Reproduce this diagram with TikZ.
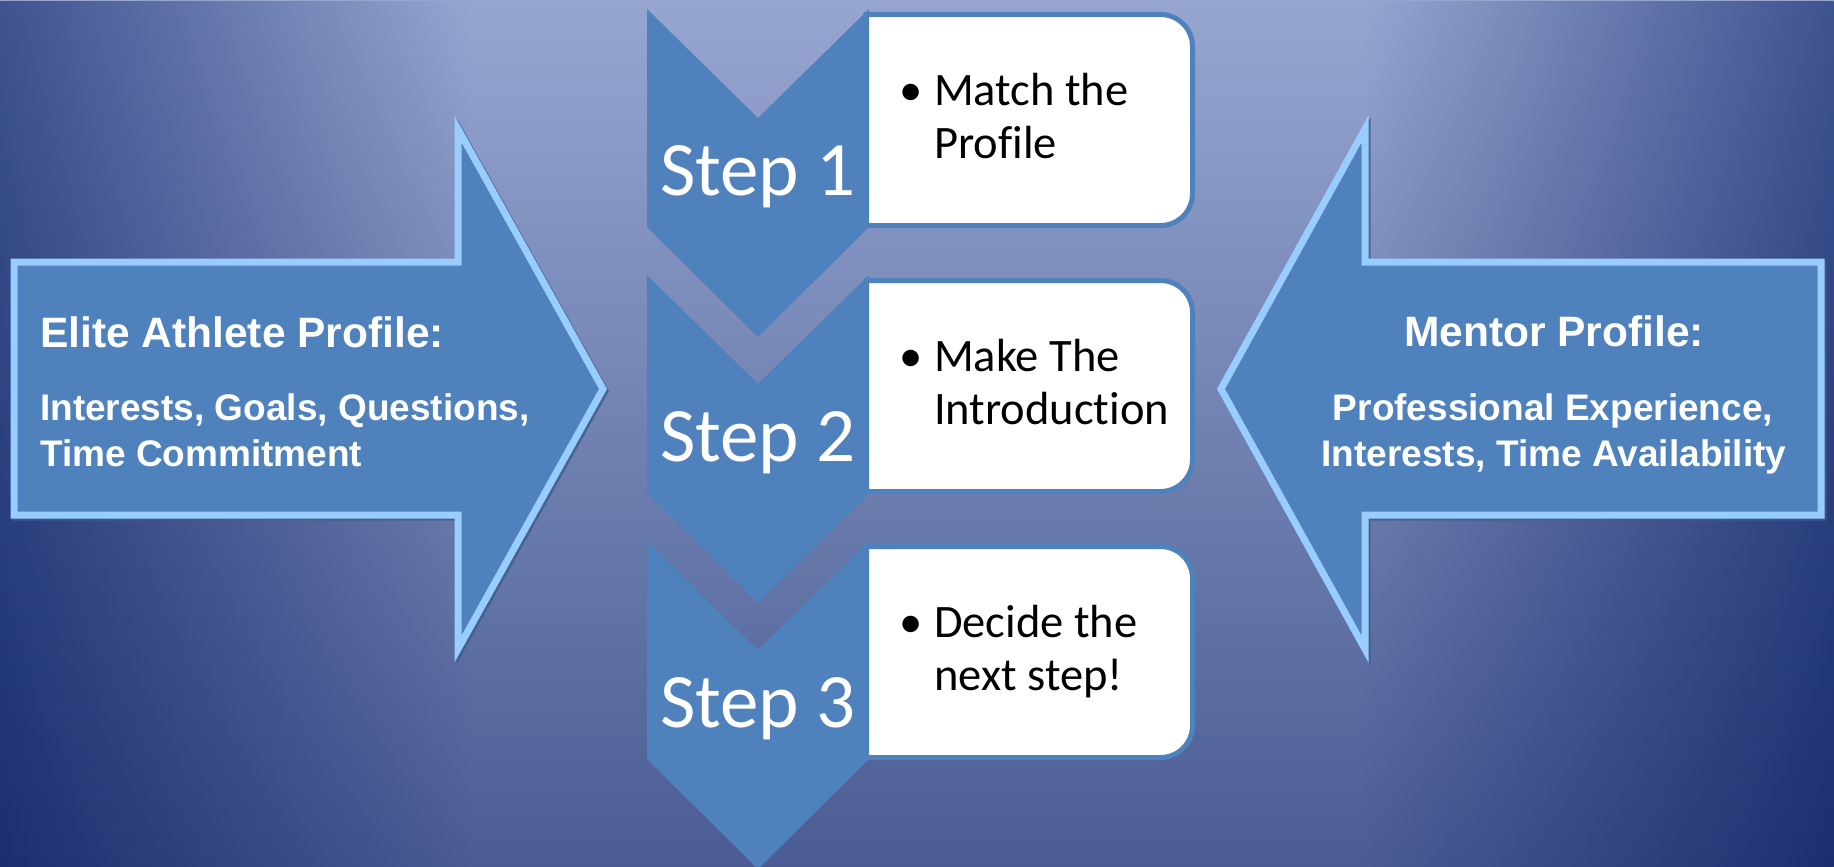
\documentclass[tikz,border=0pt]{standalone}
\usepackage{fontspec}
\setmainfont{Carlito}[Ligatures=NoCommon]
\newfontfamily\profilefont{Liberation Sans}
\usetikzlibrary{fadings}

\definecolor{stepblue}{HTML}{4F81BD}
\definecolor{arrowrim}{HTML}{99CCFF}
\definecolor{arrowshade}{HTML}{3F5F88}
\definecolor{bgtop}{HTML}{97A6D0}
\definecolor{bgmid}{HTML}{7381B3}
\definecolor{bgbottom}{HTML}{4A5C93}
\definecolor{rimtop}{HTML}{3E5390}
\definecolor{rimbottom}{HTML}{1B2F70}

\tikzfading[name=fadeleft, left color=transparent!0, right color=transparent!100]
\tikzfading[name=faderight, left color=transparent!100, right color=transparent!0]

\newcommand{\athletearrow}{(14,262) -- (458,262) -- (458,129) -- (603,389) -- (458,649) -- (458,515) -- (14,515) -- cycle}
\newcommand{\mentorarrow}{(1821,262) -- (1365,262) -- (1365,129) -- (1221,389) -- (1365,649) -- (1365,515) -- (1821,515) -- cycle}

\tikzset{
	chevron/.style={fill=stepblue},
	stepbox/.style={draw=stepblue, line width=5pt, fill=white},
	steplabel/.style={anchor=base, inner sep=0pt, text=white, font=\fontsize{77}{77}\selectfont},
	bulletmark/.style={anchor=base west, inner sep=0pt, font=\fontsize{46.5}{52}\selectfont},
	bullettext/.style={anchor=base west, inner sep=0pt, font=\fontsize{46.5}{52}\selectfont},
	profilearrow/.style={fill=stepblue, draw=arrowrim, line width=7pt, line join=miter},
	arrowshadow/.style={draw=arrowshade, line width=7pt, line join=miter, opacity=.8, shift={(2,2)}},
	profiletitle/.style={inner sep=0pt, text=white, font=\profilefont\bfseries\fontsize{42.5}{42.5}\selectfont},
	profiletext/.style={inner sep=0pt, text=white, font=\profilefont\bfseries\fontsize{37}{37}\selectfont}
}

\begin{document}
\begin{tikzpicture}[x=1pt,y=-1pt]
	\useasboundingbox (0,0) rectangle (1834,867);
	\clip (0,0) rectangle (1834,867);
	\shade[top color=bgtop, middle color=bgmid, bottom color=bgbottom] (0,0) rectangle (1834,867);
	\shade[top color=rimtop, bottom color=rimbottom, path fading=fadeleft] (0,0) rectangle (470,867);
	\shade[top color=rimtop, bottom color=rimbottom, path fading=faderight] (1364,0) rectangle (1834,867);

	\draw[arrowshadow] \athletearrow;
	\draw[profilearrow] \athletearrow;
	\node[profiletitle, anchor=base west] (athletetitle) at (40,347) {Elite Athlete Profile:};
	\node[profiletext, anchor=base west] (athleteone) at (40,420) {Interests, Goals, Questions,};
	\node[profiletext, anchor=base west] (athletetwo) at (40,466) {Time Commitment};

	\draw[arrowshadow] \mentorarrow;
	\draw[profilearrow] \mentorarrow;
	\node[profiletitle, anchor=base] (mentortitle) at (1554,346) {Mentor Profile:};
	\node[profiletext, anchor=base] (mentorone) at (1553,420) {Professional Experience,};
	\node[profiletext, anchor=base] (mentortwo) at (1554,466) {Interests, Time Availability};

	\foreach \i/\lineone/\linetwo in {1/Match the/Profile, 2/Make The/Introduction, 3/Decide the/next step!} {
		\pgfmathsetmacro{\stepy}{9+266*(\i-1)}
		\draw[stepbox] (866,\stepy+5.5) [rounded corners=32pt] -- (1192.5,\stepy+5.5) -- (1192.5,\stepy+216.5) [sharp corners] -- (866,\stepy+216.5) -- cycle;
		\fill[chevron] (647,\stepy) -- (758,\stepy+109) -- (869,\stepy) -- (869,\stepy+218) -- (758,\stepy+328) -- (647,\stepy+218) -- cycle;
		\node[steplabel] (step\i) at (758,\stepy+186) {Step \i};
		\node[bulletmark] (bullet\i) at (899,\stepy+96) {\textbullet};
		\node[bullettext] (first\i) at (934,\stepy+96) {\lineone};
		\node[bullettext] (second\i) at (934,\stepy+149) {\linetwo};
	}
\end{tikzpicture}
\end{document}
